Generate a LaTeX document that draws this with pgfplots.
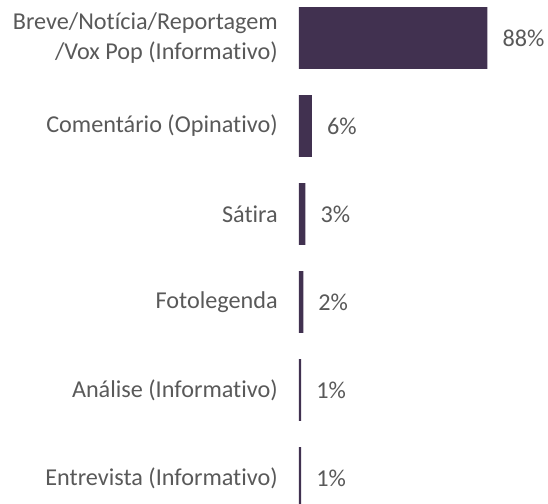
\documentclass[border=0pt]{standalone}
\usepackage{pgfplots}
\pgfplotsset{compat=1.18}
\usepackage{fontspec}
\setmainfont[RawFeature={-liga}]{Carlito}
\definecolor{barpurple}{HTML}{413150}
\definecolor{txtgray}{HTML}{595959}

\begin{document}
\fontsize{24.3}{30}\selectfont
\begin{tikzpicture}
  \begin{axis}[
      name=ax,
      scale only axis,
      width=214bp, height=504bp,
      xmin=0, xmax=100,
      ymin=-0.432, ymax=5.295,
      y dir=reverse,
      xbar, bar width=0.7,
      hide x axis,
      axis y line*=left,
      y axis line style={draw=none},
      ytick={0,1,2,3,4,5},
      yticklabels={{Breve/Notícia/Reportagem\\/Vox Pop (Informativo)},
                   {Comentário (Opinativo)},
                   {Sátira},
                   {Fotolegenda},
                   {Análise (Informativo)},
                   {Entrevista (Informativo)}},
      major tick length=0pt,
      yticklabel style={align=right, text=txtgray, font=\fontsize{24.3}{30}\selectfont, xshift=-13bp},
      /pgf/number format/assume math mode=true,
      nodes near coords={\pgfmathprintnumber{\pgfplotspointmeta}\%},
      nodes near coords style={anchor=west, inner sep=0pt, xshift=15bp,
                               text=txtgray, font=\fontsize{24.3}{30}\selectfont},
      point meta=explicit symbolic,
      clip=false,
    ]
    \addplot[fill=barpurple, draw=none] coordinates {
        (88,0) [88]
        (6,1) [6]
        (3,2) [3]
        (2,3) [2]
        (1,4) [1]
        (1,5) [1]
      };
  \end{axis}
  \pgfresetboundingbox
  \path ([xshift=-299bp]ax.south west) rectangle ([xshift=35bp]ax.north east);
\end{tikzpicture}
\end{document}
